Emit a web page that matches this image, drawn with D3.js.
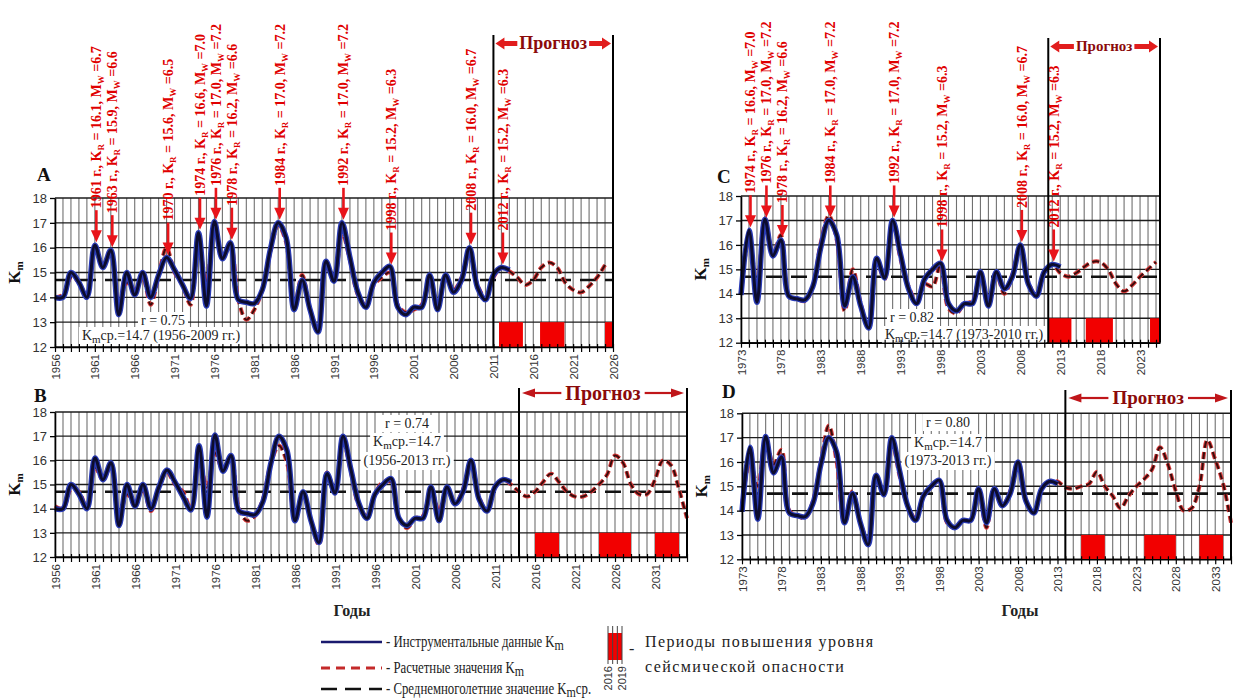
<!DOCTYPE html>
<html>
<head>
<meta charset="utf-8">
<script src="https://cdn.jsdelivr.net/npm/d3@7"></script>
<style>
body { margin: 0; background: #fff; }
</style>
</head>
<body>
<script>
// instrumental Km, one value per year from instrStart
var instrStart = 1956;
var kmInstr = [14.0, 14.0, 15.0, 14.6, 14.0, 16.1, 15.2, 15.9, 13.3, 15.0,
               14.1, 15.0, 14.0, 14.9, 15.6, 15.1, 14.5, 13.95, 16.6, 13.65,
               17.05, 15.55, 16.2, 13.9, 13.8, 13.75, 14.3, 15.9, 17.0, 16.4,
               13.5, 14.7, 13.5, 12.6, 15.45, 14.65, 17.0, 15.6, 14.2, 13.6,
               14.6, 15.0, 15.25, 13.6, 13.3, 13.6, 13.6, 14.9, 13.5, 14.9,
               14.2, 14.7, 16.0, 14.4, 13.9, 14.9, 15.2, 15.1];

// calculated values (fit + forecast) per panel
var calcA = [14.0, 14.1, 14.8, 14.6, 14.0, 15.9, 15.3, 15.8, 13.7, 14.6,
             14.3, 14.8, 13.7, 14.9, 16.0, 15.0, 14.5, 13.7, 16.2, 14.6,
             16.8, 15.6, 16.1, 13.9, 13.1, 13.5, 14.3, 15.8, 16.9, 16.2,
             13.6, 14.9, 13.5, 12.7, 15.2, 14.8, 16.6, 15.5, 14.1, 13.7,
             14.5, 14.8, 15.0, 13.7, 13.4, 13.5, 13.7, 14.7, 13.7, 14.8,
             14.3, 14.8, 15.8, 14.5, 14.0, 14.8, 15.2, 15.05, 14.8, 14.5,
             14.7, 15.2, 15.4, 15.2, 14.6, 14.3, 14.2, 14.45, 14.8, 15.3];
var calcB = [14.1, 14.0, 14.8, 14.7, 14.0, 15.7, 15.2, 15.8, 13.6, 14.6,
             14.2, 14.8, 13.9, 14.9, 15.5, 15.0, 14.7, 14.0, 16.0, 14.9,
             16.3, 15.6, 16.1, 14.0, 13.5, 13.7, 14.4, 15.9, 16.6, 15.9,
             13.7, 14.6, 13.5, 12.5, 15.5, 14.7, 16.8, 15.5, 14.1, 13.7,
             14.6, 15.1, 15.1, 13.6, 13.2, 13.6, 13.7, 14.8, 13.9, 14.8,
             14.2, 14.8, 15.9, 14.5, 13.9, 14.9, 15.2, 15.0, 14.7, 14.5,
             14.7, 15.1, 15.45, 15.1, 14.7, 14.5, 14.5, 14.7, 15.0, 15.4,
             16.2, 15.9, 15.0, 14.6, 14.6, 15.2, 16.0, 15.8, 14.8, 13.6];
var calcC = [14.0, 16.3, 14.3, 17.1, 15.6, 16.4, 13.9, 13.8, 13.7, 14.3,
             16.1, 17.2, 16.2, 13.3, 15.0, 13.6, 12.6, 15.3, 14.6, 17.0,
             15.4, 14.3, 13.7, 14.4, 14.3, 15.2, 13.4, 13.2, 13.6, 13.7,
             14.8, 13.7, 14.8, 14.0, 14.8, 16.0, 14.5, 13.9, 14.9, 15.2,
             14.85, 14.7, 14.85, 15.1, 15.3, 15.3, 15.0, 14.4, 14.1, 14.35,
             14.7, 15.0, 15.3];
var calcD = [14.2, 16.0, 15.0, 16.9, 15.9, 16.5, 14.0, 13.8, 13.7, 14.4,
             16.0, 17.5, 16.0, 13.5, 14.8, 13.5, 12.8, 15.3, 14.7, 16.8,
             15.4, 14.2, 13.7, 14.6, 15.0, 15.2, 13.5, 13.3, 13.6, 13.6,
             14.8, 13.3, 14.9, 14.2, 14.8, 16.0, 14.4, 13.9, 14.9, 15.2,
             15.2, 14.95, 14.9, 15.0, 15.1, 15.6, 15.0, 14.6, 14.1, 14.6,
             15.0, 15.3, 15.7, 16.6, 15.9, 14.8, 14.0, 14.1, 15.0, 16.9,
             16.1, 15.1, 13.5];

var kmMean = 14.7;
var kmTicks = [12, 13, 14, 15, 16, 17, 18];

// earthquakes
var quakeYears = [1961, 1963, 1970, 1974, 1976, 1978, 1984, 1992, 1998, 2008, 2012];
var quakeKR = [16.1, 15.9, 15.6, 16.6, 17.0, 16.2, 17.0, 17.0, 15.2, 16.0, 15.2];
var quakeMW = ["6.7", "6.6", "6.5", "7.0", "7.2", "6.6", "7.2", "7.2", "6.3", "6.7", "6.3"];

// periods of increased hazard
var dangerA = [[2011.7, 2014.7], [2016.85, 2019.9], [2025, 2026]];
var dangerB = [[2016, 2019], [2024, 2028], [2031, 2034]];
var dangerC = [[2011.5, 2014.4], [2016.2, 2019.6], [2024.25, 2025.5]];
var dangerD = [[2016, 2019], [2024, 2028], [2031, 2034]];

var ticksA = [1956, 1961, 1966, 1971, 1976, 1981, 1986, 1991, 1996, 2001, 2006, 2011, 2016, 2021, 2026];
var ticksB = [1956, 1961, 1966, 1971, 1976, 1981, 1986, 1991, 1996, 2001, 2006, 2011, 2016, 2021, 2026, 2031];
var ticksC = [1973, 1978, 1983, 1988, 1993, 1998, 2003, 2008, 2013, 2018, 2023];
var ticksD = [1973, 1978, 1983, 1988, 1993, 1998, 2003, 2008, 2013, 2018, 2023, 2028, 2033];

var corrR = ["0.75", "0.74", "0.82", "0.80"];
var statPeriods = ["1956-2009", "1956-2013", "1973-2010", "1973-2013"];

var serif = "'Liberation Serif','Times New Roman',serif";
var sans = "'Liberation Sans',Arial,sans-serif";

var svg = d3.select("body").append("svg")
    .attr("width", 1233)
    .attr("height", 699);

var panels = [
    {name: "A", x0: 1956, x1: 2026, left: 55, right: 613, top: 198, bottom: 347,
     fc: 2011, frameTop: 35, rightFrame: true, hdr: "small", hdrSize: 18,
     calc: calcA, calcStart: 1956, danger: dangerA, ticks: ticksA, quakes: true,
     letter: [37, 181], stat: 0, statPos: [[163, 325], [161, 340]]},
    {name: "B", x0: 1956, x1: 2035, left: 55, right: 687, top: 412, bottom: 557,
     fc: 2014, frameTop: 388, rightFrame: true, hdr: "big", hdrSize: 20, hdrY: 393,
     calc: calcB, calcStart: 1956, danger: dangerB, ticks: ticksB, quakes: false,
     letter: [34, 402], stat: 1, statPos: [[407, 428], [407, 446], [407, 465]], years: 352},
    {name: "C", x0: 1973, x1: 2025.5, left: 741, right: 1160, top: 196, bottom: 342.7,
     fc: 2011.5, frameTop: 38, rightFrame: true, hdr: "small", hdrSize: 15,
     calc: calcC, calcStart: 1973, danger: dangerC, ticks: ticksC, quakes: true,
     letter: [717, 183], stat: 2, statPos: [[912, 322], [964, 339]]},
    {name: "D", x0: 1973, x1: 2035, left: 742, right: 1231, top: 413.3, bottom: 559.3,
     fc: 2014, frameTop: 390, rightFrame: true, hdr: "big", hdrSize: 19, hdrY: 398,
     calc: calcD, calcStart: 1973, danger: dangerD, ticks: ticksD, quakes: false,
     letter: [722, 398], stat: 3, statPos: [[948, 427], [948, 447], [948, 465]], years: 1020}
];

panels.forEach(drawPanel);
drawLegend();

function richText(t, parts, subSize) {
    var shifted = false;
    parts.forEach(function (pt) {
        var s = t.append("tspan").text(pt[0]);
        if (pt[1]) {
            s.attr("dy", 3).style("font-size", subSize + "px");
            shifted = true;
        } else if (shifted) {
            s.attr("dy", -3);
            shifted = false;
        }
    });
    return t;
}

function fatArrow(g, from, tip, cy) {
    var dir = tip > from ? 1 : -1, h = tip - dir * 9;
    var d = "M" + tip + "," + cy + "L" + h + "," + (cy - 6) + "L" + h + "," + (cy - 2.5) +
        "L" + from + "," + (cy - 2.5) + "L" + from + "," + (cy + 2.5) + "L" + h + "," + (cy + 2.5) +
        "L" + h + "," + (cy + 6) + "Z";
    g.append("path").attr("d", d).attr("fill", "#e11d1d");
}

function thinArrow(g, from, tip, cy) {
    var dir = tip > from ? 1 : -1;
    g.append("line")
        .attr("x1", from).attr("x2", tip - dir * 10)
        .attr("y1", cy).attr("y2", cy)
        .attr("stroke", "#c0161a").attr("stroke-width", 2.2);
    g.append("path")
        .attr("d", "M" + tip + "," + cy + "L" + (tip - dir * 13) + "," + (cy - 4.5) +
            "L" + (tip - dir * 13) + "," + (cy + 4.5) + "Z")
        .attr("fill", "#c0161a");
}

function drawPanel(p) {
    var x = d3.scaleLinear().domain([p.x0, p.x1]).range([p.left, p.right]);
    var y = d3.scaleLinear().domain([12, 18]).range([p.bottom, p.top]);
    var g = svg.append("g");
    var allYears = d3.range(p.x0, Math.floor(p.x1) + 1);

    // grid
    g.append("g").selectAll("line").data(allYears).join("line")
        .attr("x1", function (d) { return x(d); })
        .attr("x2", function (d) { return x(d); })
        .attr("y1", y(18)).attr("y2", y(12))
        .attr("stroke", "#707070").attr("stroke-width", 1.1);
    g.append("g").selectAll("line").data(kmTicks).join("line")
        .attr("x1", x(p.x0)).attr("x2", x(p.x1))
        .attr("y1", function (d) { return y(d); })
        .attr("y2", function (d) { return y(d); })
        .attr("stroke", "#1c1c1c").attr("stroke-width", 1.4);

    // hazard periods
    g.append("g").selectAll("rect").data(p.danger).join("rect")
        .attr("x", function (d) { return x(d[0]); })
        .attr("width", function (d) { return x(d[1]) - x(d[0]); })
        .attr("y", y(13)).attr("height", y(12) - y(13))
        .attr("fill", "#f20000");

    // mean
    g.append("line")
        .attr("x1", x(p.x0)).attr("x2", x(p.x1))
        .attr("y1", y(kmMean)).attr("y2", y(kmMean))
        .attr("stroke", "#111").attr("stroke-width", 2.6)
        .attr("stroke-dasharray", "16,9");

    // stats text with white boxes
    var st = p.statPos;
    var lines;
    if (st.length === 2) {
        lines = [[["r = " + corrR[p.stat]]],
                 [["K"], ["m", 1], ["ср.=" + kmMean + " (" + statPeriods[p.stat] + " гг.)"]]];
    } else {
        lines = [[["r = " + corrR[p.stat]]],
                 [["K"], ["m", 1], ["ср.=" + kmMean]],
                 [["(" + statPeriods[p.stat] + " гг.)"]]];
    }
    var sg = g.append("g");
    lines.forEach(function (ln, i) {
        var t = sg.append("text")
            .attr("x", st[i][0]).attr("y", st[i][1])
            .attr("text-anchor", "middle")
            .style("font", "14px " + serif).attr("fill", "#222");
        richText(t, ln, 11);
        var bb = t.node().getBBox();
        sg.insert("rect", "text")
            .attr("x", bb.x - 3).attr("y", bb.y - 1)
            .attr("width", bb.width + 6).attr("height", bb.height + 2)
            .attr("fill", "#fff");
    });

    // curves
    var line = d3.line()
        .x(function (d) { return x(d[0]); })
        .y(function (d) { return y(d[1]); })
        .curve(d3.curveCatmullRom.alpha(0.5));
    var calcPts = p.calc.map(function (v, i) { return [p.calcStart + i, v]; });
    var instrPts = kmInstr.map(function (v, i) { return [instrStart + i, v]; })
        .filter(function (d) { return d[0] >= p.x0; });

    g.append("path").datum(calcPts).attr("d", line)
        .attr("fill", "none").attr("stroke", "#d83a3a").attr("stroke-width", 4)
        .attr("stroke-dasharray", "7,4");
    g.append("path").datum(calcPts).attr("d", line)
        .attr("fill", "none").attr("stroke", "#3a0c0c").attr("stroke-width", 2)
        .attr("stroke-dasharray", "7,4");
    g.append("path").datum(instrPts).attr("d", line)
        .attr("fill", "none").attr("stroke", "#2a3bb5").attr("stroke-width", 5.5);
    g.append("path").datum(instrPts).attr("d", line)
        .attr("fill", "none").attr("stroke", "#0c0c2e").attr("stroke-width", 3);

    // axes
    var yAx = g.append("g")
        .attr("transform", "translate(" + x(p.x0) + ",0)")
        .call(d3.axisLeft(y).tickValues(kmTicks).tickSize(5).tickSizeOuter(0).tickPadding(3)
            .tickFormat(d3.format("d")));
    yAx.select(".domain").attr("stroke", "#000").attr("stroke-width", 1.6);
    yAx.selectAll(".tick line").attr("stroke-width", 1.3);
    yAx.selectAll("text").style("font", "13px " + sans).attr("fill", "#333");

    var xAx = g.append("g")
        .attr("transform", "translate(0," + y(12) + ")")
        .call(d3.axisBottom(x).tickValues(allYears).tickSize(5).tickSizeOuter(0)
            .tickFormat(function (d) { return p.ticks.indexOf(d) >= 0 ? d : ""; }));
    xAx.select(".domain").attr("stroke", "#000").attr("stroke-width", 1.6);
    xAx.selectAll(".tick line").attr("y1", -3).attr("stroke-width", 1.2);
    xAx.selectAll("text")
        .attr("transform", "rotate(-90)")
        .attr("x", -7).attr("y", 0).attr("dy", "0.35em")
        .style("text-anchor", "end")
        .style("font", "11.5px " + sans).attr("fill", "#333");

    // forecast frame
    g.append("line")
        .attr("x1", x(p.fc)).attr("x2", x(p.fc))
        .attr("y1", p.frameTop).attr("y2", y(12))
        .attr("stroke", "#000").attr("stroke-width", 2);
    if (p.rightFrame) {
        g.append("line")
            .attr("x1", x(p.x1)).attr("x2", x(p.x1))
            .attr("y1", p.frameTop).attr("y2", y(12))
            .attr("stroke", "#000").attr("stroke-width", 2);
    }

    var xl = x(p.fc), xr = x(p.x1), cx = (xl + xr) / 2;
    if (p.hdr === "small") {
        var cy = p.frameTop + 8.5;
        var t = g.append("text").attr("x", cx).attr("y", cy + p.hdrSize * 0.33)
            .attr("text-anchor", "middle")
            .style("font", "bold " + p.hdrSize + "px " + serif).attr("fill", "#8b0a0a")
            .text("Прогноз");
        var w = t.node().getComputedTextLength();
        fatArrow(g, cx - w / 2 - 2, xl + 2, cy);
        fatArrow(g, cx + w / 2 + 2, xr - 2, cy);
    } else {
        var t2 = g.append("text").attr("x", cx).attr("y", p.hdrY + p.hdrSize * 0.33)
            .attr("text-anchor", "middle")
            .style("font", "bold " + p.hdrSize + "px " + serif).attr("fill", "#8b0a0a")
            .text("Прогноз");
        var w2 = t2.node().getComputedTextLength();
        thinArrow(g, cx - w2 / 2 - 4, xl + 3, p.hdrY);
        thinArrow(g, cx + w2 / 2 + 4, xr - 3, p.hdrY);
    }

    // earthquake arrows
    if (p.quakes) {
        quakeYears.forEach(function (yr, i) {
            if (yr < p.x0) return;
            var ex = x(yr) + 1.5, tip = y(quakeKR[i]) - 3, base = tip - 32;
            g.append("line")
                .attr("x1", ex).attr("x2", ex).attr("y1", base).attr("y2", tip - 9)
                .attr("stroke", "#e8141a").attr("stroke-width", 2.6);
            g.append("path")
                .attr("d", "M" + ex + "," + tip + "L" + (ex - 5.5) + "," + (tip - 12) +
                    "L" + (ex + 5.5) + "," + (tip - 12) + "Z")
                .attr("fill", "#e8141a");
            var t = g.append("text")
                .attr("transform", "translate(" + ex + "," + (base - 2) + ") rotate(-90)")
                .attr("y", 5)
                .style("font", "bold 14px " + serif).attr("fill", "#e00000");
            richText(t, [[yr + " г., K"], ["R", 1], [" = " + quakeKR[i].toFixed(1) + ", M"],
                ["W", 1], [" =" + quakeMW[i]]], 9);
        });
    }

    // panel letter and axis title
    svg.append("text").attr("x", p.letter[0]).attr("y", p.letter[1])
        .style("font", "bold 19px " + serif).attr("fill", "#111").text(p.name);
    var kt = svg.append("text")
        .attr("transform", "translate(" + (x(p.x0) - 35) + "," + ((p.top + p.bottom) / 2) + ") rotate(-90)")
        .attr("text-anchor", "middle")
        .style("font", "bold 17px " + serif).attr("fill", "#111");
    richText(kt, [["K"], ["m", 1]], 11);

    if (p.years) {
        svg.append("text").attr("x", p.years).attr("y", 616)
            .attr("text-anchor", "middle")
            .style("font", "bold 16px " + serif).attr("fill", "#222").text("Годы");
    }
}

function drawLegend() {
    var lg = svg.append("g");
    var items = [
        {y: 642, stroke: "#1a1a6e", width: 2.5, dash: null,
         parts: [["- Инструментальные данные K"], ["m", 1]]},
        {y: 668, stroke: "#c42a2a", width: 3, dash: "9,6",
         parts: [["- Расчетные значения K"], ["m", 1]]},
        {y: 689, stroke: "#111", width: 2.6, dash: "16,8",
         parts: [["- Среднемноголетние значение K"], ["m", 1], ["ср."]]}
    ];
    items.forEach(function (it) {
        lg.append("line").attr("x1", 321).attr("x2", 382).attr("y1", it.y).attr("y2", it.y)
            .attr("stroke", it.stroke).attr("stroke-width", it.width)
            .attr("stroke-dasharray", it.dash);
        var t = lg.append("text")
            .attr("transform", "translate(386," + (it.y + 5) + ") scale(0.8,1)")
            .style("font", "16px " + serif).attr("fill", "#222");
        richText(t, it.parts, 15);
    });

    var lx = d3.scaleLinear().domain([2016, 2019]).range([608, 622]);
    var tickYears = [2016, 2017, 2018, 2019];
    lg.append("rect").attr("x", lx(2016)).attr("y", 633)
        .attr("width", lx(2019) - lx(2016)).attr("height", 27).attr("fill", "#f20000");
    lg.selectAll(".lt").data(tickYears).join("line")
        .attr("x1", function (d) { return lx(d); })
        .attr("x2", function (d) { return lx(d); })
        .attr("y1", 626).attr("y2", 664)
        .attr("stroke", "#444").attr("stroke-width", 1);
    lg.selectAll(".ll").data([2016, 2019]).join("text")
        .attr("transform", function (d) { return "translate(" + lx(d) + ",666) rotate(-90)"; })
        .attr("dy", "0.35em").attr("text-anchor", "end")
        .style("font", "11px " + sans).attr("fill", "#333")
        .text(function (d) { return d; });
    lg.append("text").attr("x", 629).attr("y", 654)
        .style("font", "16px " + serif).attr("fill", "#222").text("-");
    lg.append("text").attr("x", 645).attr("y", 647)
        .style("font", "16px " + serif).style("letter-spacing", "1.4px")
        .attr("fill", "#222").text("Периоды повышения уровня");
    lg.append("text").attr("x", 645).attr("y", 672)
        .style("font", "16px " + serif).style("letter-spacing", "1.4px")
        .attr("fill", "#222").text("сейсмической опасности");
}
</script>
</body>
</html>
